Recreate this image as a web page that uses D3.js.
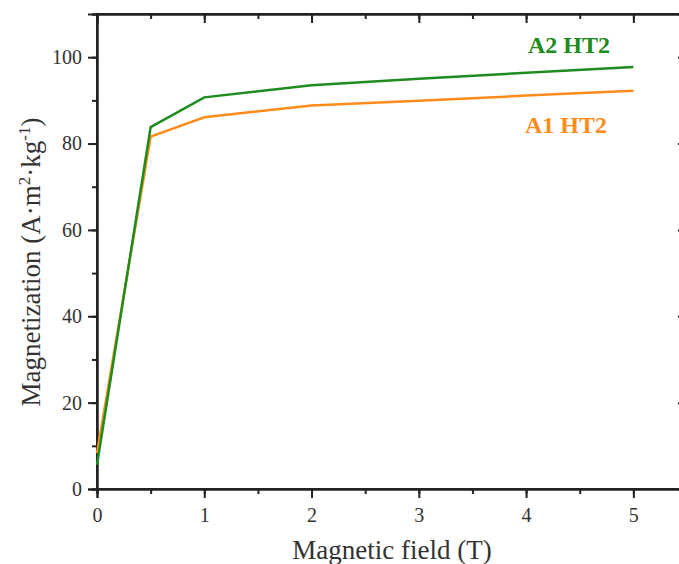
<!DOCTYPE html>
<html>
<head>
<meta charset="utf-8">
<script src="https://cdn.jsdelivr.net/npm/d3@7"></script>
<style>
  body { margin: 0; background: #fff; }
  text { font-family: "Liberation Serif", "Times New Roman", serif; }
</style>
</head>
<body>
<script>
// data
const field = [0, 0.5, 1, 2, 3, 4, 5];
const a2ht2 = [5.6, 83.8, 90.7, 93.5, 95.0, 96.4, 97.7];
const a1ht2 = [8.3, 81.6, 86.1, 88.8, 89.9, 91.1, 92.2];
const xTicks = [0, 1, 2, 3, 4, 5];
const yTicks = [0, 20, 40, 60, 80, 100];

const width = 679;
const height = 564;
const margin = { top: 14, right: -8, bottom: 75, left: 97 };

const svg = d3.select("body")
    .append("svg")
    .attr("width", width)
    .attr("height", height);

const x = d3.scaleLinear()
    .domain([0, 5.5])
    .range([margin.left, width - margin.right]);

const y = d3.scaleLinear()
    .domain([0, 110])
    .range([height - margin.bottom, margin.top]);

const minorX = d3.range(0, 5.51, 0.5);
const minorY = d3.range(0, 110.1, 10);

// frame
svg.append("rect")
    .attr("x", x(0))
    .attr("y", y(110))
    .attr("width", x(5.5) - x(0))
    .attr("height", y(0) - y(110))
    .attr("fill", "none")
    .attr("stroke", "#222")
    .attr("stroke-width", 2);

function styleAxis(g) {
    g.selectAll("path").attr("stroke", "#222").attr("stroke-width", 2);
    g.selectAll("line").attr("stroke", "#222").attr("stroke-width", 2);
    g.selectAll("text")
        .attr("fill", "#333")
        .style("font-size", "20px")
        .style("font-family", "'Liberation Serif', serif");
}

// bottom axis
svg.append("g")
    .attr("transform", "translate(0," + y(0) + ")")
    .call(d3.axisBottom(x).tickValues(minorX).tickSize(5).tickFormat(""))
    .call(styleAxis);
svg.append("g")
    .attr("transform", "translate(0," + y(0) + ")")
    .call(d3.axisBottom(x).tickValues(xTicks).tickSize(9).tickPadding(10).tickFormat(d3.format("d")))
    .call(styleAxis);

// left axis
svg.append("g")
    .attr("transform", "translate(" + x(0) + ",0)")
    .call(d3.axisLeft(y).tickValues(minorY).tickSize(5).tickFormat(""))
    .call(styleAxis);
svg.append("g")
    .attr("transform", "translate(" + x(0) + ",0)")
    .call(d3.axisLeft(y).tickValues(yTicks).tickSize(9).tickPadding(6).tickFormat(d3.format("d")))
    .call(styleAxis);

// top axis (inward ticks)
svg.append("g")
    .attr("transform", "translate(0," + y(110) + ")")
    .call(d3.axisBottom(x).tickValues(minorX).tickSize(5).tickFormat(""))
    .call(styleAxis);
svg.append("g")
    .attr("transform", "translate(0," + y(110) + ")")
    .call(d3.axisBottom(x).tickValues(xTicks).tickSize(9).tickFormat(""))
    .call(styleAxis);

// right axis (inward ticks)
svg.append("g")
    .attr("transform", "translate(" + x(5.5) + ",0)")
    .call(d3.axisLeft(y).tickValues(minorY).tickSize(5).tickFormat(""))
    .call(styleAxis);
svg.append("g")
    .attr("transform", "translate(" + x(5.5) + ",0)")
    .call(d3.axisLeft(y).tickValues(yTicks).tickSize(9).tickFormat(""))
    .call(styleAxis);

// lines
const line = d3.line()
    .x((d, i) => x(field[i]))
    .y(d => y(d));

svg.append("path")
    .datum(a1ht2)
    .attr("d", line)
    .attr("fill", "none")
    .attr("stroke", "#ff8c1a")
    .attr("stroke-width", 2.5);

svg.append("path")
    .datum(a2ht2)
    .attr("d", line)
    .attr("fill", "none")
    .attr("stroke", "#1e8c1e")
    .attr("stroke-width", 2.5);

// series labels
svg.append("text")
    .attr("x", 569)
    .attr("y", 53)
    .attr("text-anchor", "middle")
    .attr("fill", "#1e8c1e")
    .style("font-size", "24px")
    .style("font-weight", "bold")
    .text("A2 HT2");

svg.append("text")
    .attr("x", 566)
    .attr("y", 133)
    .attr("text-anchor", "middle")
    .attr("fill", "#ff8c1a")
    .style("font-size", "24px")
    .style("font-weight", "bold")
    .text("A1 HT2");

// axis titles
svg.append("text")
    .attr("x", 392)
    .attr("y", 559)
    .attr("text-anchor", "middle")
    .attr("fill", "#333")
    .style("font-size", "27px")
    .text("Magnetic field (T)");

const yTitle = svg.append("text")
    .attr("transform", "translate(40," + 262 + ") rotate(-90)")
    .attr("text-anchor", "middle")
    .attr("fill", "#333")
    .style("font-size", "27px");
yTitle.append("tspan").text("Magnetization (A\u00b7m");
yTitle.append("tspan").attr("dy", -10).style("font-size", "17px").text("2");
yTitle.append("tspan").attr("dy", 10).text("\u00b7kg");
yTitle.append("tspan").attr("dy", -10).style("font-size", "17px").text("-1");
yTitle.append("tspan").attr("dy", 10).text(")");
</script>
</body>
</html>
